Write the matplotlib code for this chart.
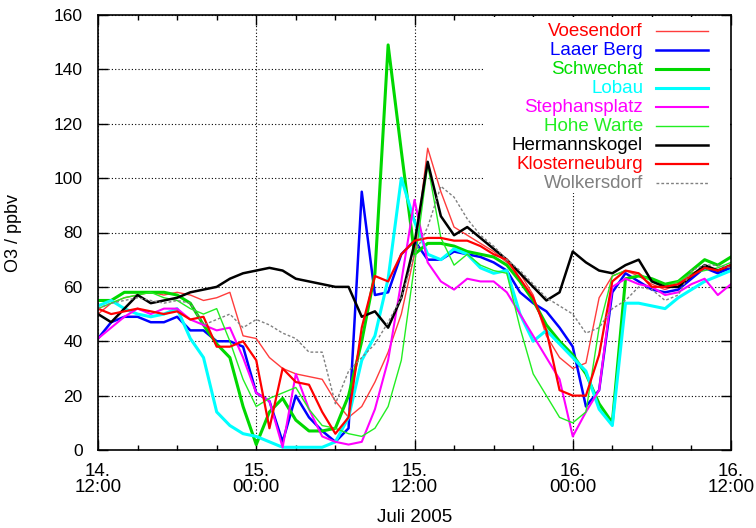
import matplotlib
matplotlib.use('Agg')
import matplotlib.pyplot as plt
from matplotlib.patches import Rectangle
from matplotlib.ticker import MultipleLocator

plt.rcParams['font.family'] = ['Liberation Sans', 'DejaVu Sans']

# hours since 14.07.2005 12:00, hourly values (ppbv)
hours = list(range(49))

voesendorf = [50, 54, 56, 57, 58, 57, 58, 57, 55, 56, 58, 42, 41, 34, 30, 28, 27, 26, 18, 12,
              16, 25, 36, 50, 72, 111, 95, 82, 79, 76, 73, 69, 65, 57, 42, 34, 30, 32, 56, 64,
              66, 64, 61, 59, 61, 65, 67, 66, 67]
laaer_berg = [41, 47, 49, 49, 47, 47, 49, 44, 44, 40, 40, 38, 21, 18, 3, 20, 12, 7, 3, 8,
              95, 57, 58, 72, 77, 70, 70, 73, 72, 71, 69, 66, 58, 54, 51, 45, 38, 16, 22, 58,
              65, 62, 59, 58, 59, 63, 67, 65, 67]
schwechat = [55, 55, 58, 58, 58, 58, 57, 54, 46, 39, 34, 16, 2, 14, 19, 11, 7, 7, 8, 20,
             40, 65, 149, 110, 72, 76, 76, 75, 73, 72, 71, 68, 62, 55, 46, 40, 35, 28, 17, 10,
             63, 64, 63, 61, 62, 66, 70, 68, 71]
lobau = [53, 55, 52, 50, 49, 50, 52, 41, 34, 14, 9, 6, 5, 3, 1, 1, 1, 1, 3, 12,
         33, 42, 63, 100, 84, 72, 70, 74, 72, 67, 65, 66, 50, 40, 44, 39, 34, 29, 15, 9,
         54, 54, 53, 52, 56, 59, 62, 64, 66]
stephansplatz = [41, 45, 49, 52, 50, 52, 52, 48, 46, 44, 45, 34, 21, 18, 1, 28, 15, 5, 3, 2,
                 3, 15, 33, 62, 92, 69, 62, 59, 63, 62, 62, 58, 50, 42, 34, 26, 5, 14, 22, 60,
                 63, 61, 60, 57, 58, 61, 63, 57, 61]
hohe_warte = [52, 54, 56, 57, 58, 56, 55, 52, 50, 52, 40, 26, 16, 19, 21, 23, 15, 9, 8, 6,
              5, 8, 16, 33, 68, 105, 78, 68, 72, 68, 66, 65, 45, 28, 20, 12, 10, 14, 45, 64,
              66, 65, 62, 60, 62, 65, 66, 67, 69]
hermannskogel = [50, 47, 52, 57, 54, 55, 56, 58, 59, 60, 63, 65, 66, 67, 66, 63, 62, 61, 60, 60,
                 49, 51, 45, 56, 76, 106, 86, 79, 82, 78, 74, 70, 65, 60, 55, 58, 73, 69, 66, 65,
                 68, 70, 62, 60, 60, 64, 68, 66, 68]
klosterneuburg = [52, 50, 51, 52, 51, 50, 51, 48, 49, 38, 38, 40, 33, 8, 30, 25, 24, 14, 6, 12,
                  45, 64, 62, 72, 77, 78, 78, 77, 77, 75, 72, 70, 63, 56, 44, 22, 20, 20, 35, 62,
                  66, 65, 60, 60, 61, 64, 67, 66, 68]
wolkersdorf = [52, 54, 55, 56, 55, 54, 55, 54, 46, 48, 50, 45, 48, 46, 43, 41, 36, 36, 17, 29,
               34, 39, 47, 56, 72, 82, 97, 93, 85, 79, 75, 70, 66, 61, 56, 53, 50, 43, 45, 52,
               55, 60, 59, 55, 57, 66, 68, 68, 67]

stations = ['Voesendorf', 'Laaer Berg', 'Schwechat', 'Lobau', 'Stephansplatz',
            'Hohe Warte', 'Hermannskogel', 'Klosterneuburg', 'Wolkersdorf']
series = [voesendorf, laaer_berg, schwechat, lobau, stephansplatz,
          hohe_warte, hermannskogel, klosterneuburg, wolkersdorf]
line_colors = ['#ff3c3c', '#0000ff', '#00d800', '#00ffff', '#ff00ff',
               '#22ee22', '#000000', '#ff0000', '#808080']
text_colors = ['#ff0000', '#0000ff', '#00dd00', '#00ffff', '#ff00ff',
               '#22ee22', '#000000', '#ff0000', '#808080']
widths = [1.0, 1.8, 2.2, 2.2, 1.5, 1.0, 1.8, 1.6, 1.0]
styles = ['-', '-', '-', '-', '-', '-', '-', '-', (0, (2, 1.5))]

xtick_pos = [0, 12, 24, 36, 48]
xtick_labels = ['14.\n12:00', '15.\n00:00', '15.\n12:00', '16.\n00:00', '16.\n12:00']

fig = plt.figure(figsize=(7.56, 5.28), dpi=100)
ax = fig.add_axes([98 / 756, 78 / 528, 633 / 756, 435 / 528])
ax.set_axisbelow(True)

for name, vals, c, lw, ls in zip(stations, series, line_colors, widths, styles):
    ax.plot(hours, vals, color=c, lw=lw, ls=ls, zorder=2)

ax.set_xlim(0, 48)
ax.set_ylim(0, 160)
ax.set_xticks(xtick_pos)
ax.set_xticklabels(xtick_labels, fontsize=13.5, linespacing=1.0)
ax.xaxis.set_minor_locator(MultipleLocator(3))
ax.yaxis.set_major_locator(MultipleLocator(20))
ax.tick_params(which='both', direction='in', top=True, right=True)
ax.tick_params(which='major', length=7, width=1)
ax.tick_params(which='minor', length=3.5, width=1)
ax.tick_params(axis='x', pad=9)
ax.tick_params(axis='y', labelsize=12.5, pad=11)
ax.grid(True, which='major', color='black', lw=0.8, ls=(0, (1, 2)))
for sp in ax.spines.values():
    sp.set_linewidth(1.2)

ax.set_ylabel('O3 / ppbv', fontsize=13)
ax.yaxis.set_label_coords(-0.12, 0.5)
ax.set_xlabel('Juli 2005', fontsize=13.5)
ax.xaxis.set_label_coords(0.5, -0.135)

# legend: white box, labels right-aligned left of the line sample
ax.add_patch(Rectangle((0.608, 0.59), 0.39, 0.405, transform=ax.transAxes,
                       facecolor='white', edgecolor='none', zorder=1))
top, pitch = 0.963, 0.0437
for i, (name, c, tc, lw, ls) in enumerate(zip(stations, line_colors, text_colors, widths, styles)):
    y = top - i * pitch
    ax.text(0.861, y, name, color=tc, fontsize=13.5, ha='right', va='center',
            transform=ax.transAxes, zorder=3)
    ax.plot([0.882, 0.964], [y, y], color=c, lw=lw, ls=ls, transform=ax.transAxes, zorder=3)

fig.savefig('out.png', dpi=100)
